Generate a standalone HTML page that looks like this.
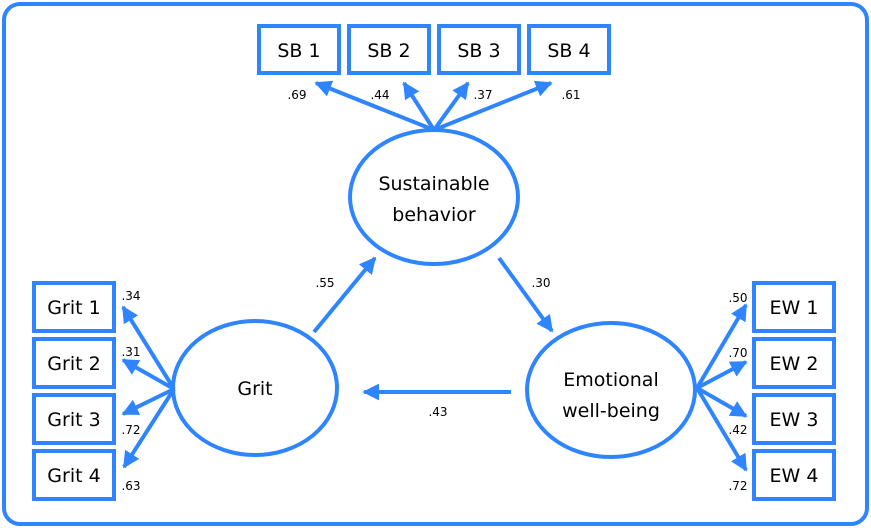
<!DOCTYPE html>
<html><head><meta charset="utf-8"><style>
html,body{margin:0;padding:0;background:#fff;}
svg{display:block;}
text{font-family:"DejaVu Sans","Liberation Sans",sans-serif;fill:#000;}
.b{font-size:19px;}
.s{font-size:12px;}
</style></head><body>
<svg width="871" height="528" viewBox="0 0 871 528" xmlns="http://www.w3.org/2000/svg">
<defs>
<marker id="a" viewBox="0 0 10 10" refX="9" refY="5" markerWidth="4.2" markerHeight="4.2" orient="auto" markerUnits="strokeWidth">
<path d="M0,0 L10,5 L0,10 z" fill="#2e85ff"/>
</marker>
</defs>
<rect x="4" y="4" width="863" height="520" rx="16" fill="#fff" stroke="#2e85ff" stroke-width="4"/>
<g fill="#fff" stroke="#2e85ff" stroke-width="4">
<rect x="259" y="26" width="80" height="47"/>
<rect x="349" y="26" width="80" height="47"/>
<rect x="439" y="26" width="80" height="47"/>
<rect x="529" y="26" width="80" height="47"/>
<rect x="34" y="283" width="80" height="48"/>
<rect x="34" y="339" width="80" height="48"/>
<rect x="34" y="395" width="80" height="48"/>
<rect x="34" y="451" width="80" height="48"/>
<rect x="754" y="283" width="80" height="48"/>
<rect x="754" y="339" width="80" height="48"/>
<rect x="754" y="395" width="80" height="48"/>
<rect x="754" y="451" width="80" height="48"/>
<ellipse cx="434" cy="197" rx="84" ry="67"/>
<ellipse cx="255" cy="388" rx="82" ry="67"/>
<ellipse cx="611" cy="390" rx="84" ry="67"/>
</g>
<g stroke="#2e85ff" stroke-width="4" fill="none" marker-end="url(#a)">
<line x1="434" y1="130" x2="316" y2="83"/>
<line x1="434" y1="130" x2="404" y2="83"/>
<line x1="434" y1="130" x2="468" y2="83"/>
<line x1="434" y1="130" x2="551" y2="83"/>
<line x1="174" y1="389" x2="123" y2="307"/>
<line x1="174" y1="389" x2="123" y2="360"/>
<line x1="174" y1="389" x2="123" y2="414"/>
<line x1="174" y1="389" x2="124" y2="467"/>
<line x1="697" y1="388" x2="746" y2="305"/>
<line x1="697" y1="388" x2="746" y2="362"/>
<line x1="697" y1="388" x2="746" y2="416"/>
<line x1="697" y1="388" x2="746" y2="470"/>
<line x1="314" y1="332" x2="375" y2="258"/>
<line x1="499" y1="258" x2="552" y2="331"/>
<line x1="511" y1="392" x2="364" y2="392"/>
</g>
<g class="b" text-anchor="middle">
<text x="299" y="57">SB 1</text>
<text x="389" y="57">SB 2</text>
<text x="479" y="57">SB 3</text>
<text x="569" y="57">SB 4</text>
<text x="74" y="314">Grit 1</text>
<text x="74" y="370">Grit 2</text>
<text x="74" y="426">Grit 3</text>
<text x="74" y="482">Grit 4</text>
<text x="794" y="314">EW 1</text>
<text x="794" y="370">EW 2</text>
<text x="794" y="426">EW 3</text>
<text x="794" y="482">EW 4</text>
<text x="434" y="190">Sustainable</text>
<text x="434" y="221">behavior</text>
<text x="255" y="395">Grit</text>
<text x="611" y="386">Emotional</text>
<text x="611" y="417">well-being</text>
</g>
<g class="s" text-anchor="middle">
<text x="297" y="99">.69</text>
<text x="380" y="99">.44</text>
<text x="483" y="99">.37</text>
<text x="571" y="99">.61</text>
<text x="131" y="300">.34</text>
<text x="131" y="356">.31</text>
<text x="131" y="434">.72</text>
<text x="131" y="490">.63</text>
<text x="738" y="302">.50</text>
<text x="738" y="357">.70</text>
<text x="738" y="434">.42</text>
<text x="738" y="490">.72</text>
<text x="325" y="287">.55</text>
<text x="541" y="287">.30</text>
<text x="438" y="416">.43</text>
</g>
</svg>
</body></html>
